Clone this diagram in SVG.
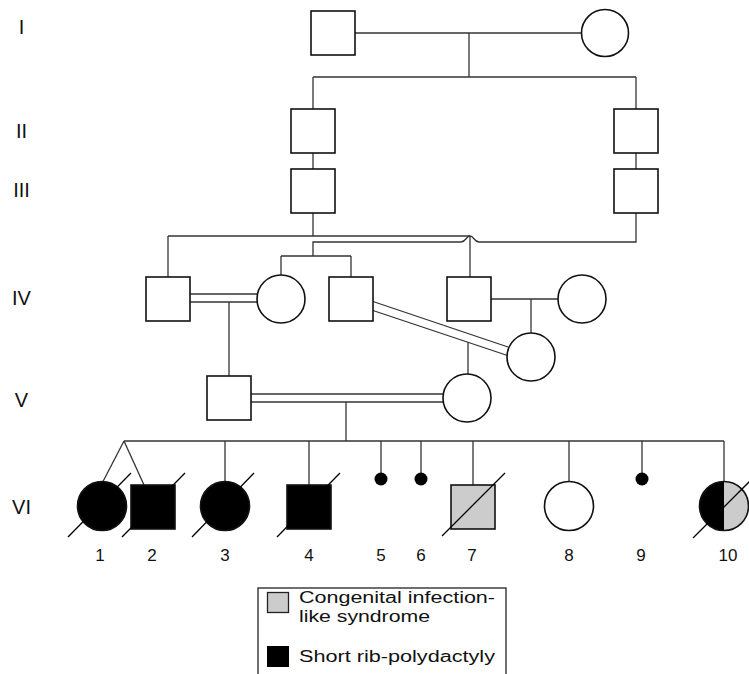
<svg xmlns="http://www.w3.org/2000/svg" width="749" height="674" viewBox="0 0 749 674">
<style>
.n{fill:#fff;stroke:#111;stroke-width:1.6}
.aff{fill:#000;stroke:#111;stroke-width:1.6}
.gr{fill:#cccccc;stroke:#111;stroke-width:1.6}
.c line,.c path{stroke:#333;stroke-width:1.3;fill:none}
.sl{stroke:#000;stroke-width:1.3}
.g{font-family:"Liberation Sans",Arial,sans-serif;font-size:20px;fill:#111;text-anchor:middle}
.num{font-family:"Liberation Sans",Arial,sans-serif;font-size:17px;fill:#111;text-anchor:middle}
.lg{font-family:"Liberation Sans",Arial,sans-serif;font-size:16px;fill:#111}
</style>
<rect width="749" height="674" fill="#fff"/>
<g id="gen-labels">
<text class="g" x="21.5" y="34">I</text>
<text class="g" x="21.5" y="138">II</text>
<text class="g" x="21.5" y="197">III</text>
<text class="g" x="21.5" y="305">IV</text>
<text class="g" x="21.5" y="407">V</text>
<text class="g" x="21.5" y="514">VI</text>
</g>
<g id="connectors" class="c">
<line x1="355" y1="33" x2="581.5" y2="33"/>
<line x1="469" y1="33" x2="469" y2="77"/>
<line x1="313" y1="77" x2="636" y2="77"/>
<line x1="313" y1="77" x2="313" y2="109"/>
<line x1="636" y1="77" x2="636" y2="109"/>
<line x1="313" y1="153" x2="313" y2="169"/>
<line x1="636" y1="153" x2="636" y2="169"/>
<line x1="313" y1="213" x2="313" y2="236"/>
<line x1="168" y1="236" x2="470" y2="236"/>
<line x1="168" y1="236" x2="168" y2="277"/>
<line x1="470" y1="236" x2="470" y2="277"/>
<path d="M636,213 V242 H479 C474,242 474,236 470,236 C466,236 466,242 461,242 H313 V256"/>
<line x1="281" y1="256" x2="351" y2="256"/>
<line x1="281" y1="256" x2="281" y2="275"/>
<line x1="351" y1="256" x2="351" y2="277"/>
<line x1="190" y1="294" x2="257.5" y2="294"/>
<line x1="190" y1="302" x2="257.5" y2="302"/>
<line x1="229" y1="302" x2="229" y2="376"/>
<line x1="373" y1="301.5" x2="508" y2="347"/>
<line x1="373" y1="310.5" x2="507.5" y2="355.5"/>
<line x1="468" y1="342" x2="468" y2="374"/>
<line x1="491" y1="299" x2="558" y2="299"/>
<line x1="531" y1="299" x2="531" y2="333"/>
<line x1="251" y1="394" x2="444" y2="394"/>
<line x1="251" y1="402" x2="443.5" y2="402"/>
<line x1="346" y1="402" x2="346" y2="441"/>
<line x1="124" y1="441" x2="724" y2="441"/>
<line x1="724" y1="441" x2="724" y2="481.5"/>
<line x1="124" y1="441" x2="103" y2="481.5"/>
<line x1="124" y1="441" x2="144" y2="485"/>
<line x1="225" y1="441" x2="225" y2="481.5"/>
<line x1="309" y1="441" x2="309" y2="485"/>
<line x1="381" y1="441" x2="381" y2="473"/>
<line x1="421" y1="441" x2="421" y2="473"/>
<line x1="473" y1="441" x2="473" y2="485"/>
<line x1="569" y1="441" x2="569" y2="482"/>
<line x1="642" y1="441" x2="642" y2="473"/>
</g>
<g id="I-1"><rect class="n" x="311" y="11" width="44" height="44"/></g>
<g id="I-2"><circle class="n" cx="605" cy="33" r="23.5"/></g>
<g id="II-1"><rect class="n" x="291" y="109" width="44" height="44"/></g>
<g id="II-2"><rect class="n" x="614" y="109" width="44" height="44"/></g>
<g id="III-1"><rect class="n" x="291" y="169" width="44" height="44"/></g>
<g id="III-2"><rect class="n" x="614" y="169" width="44" height="44"/></g>
<g id="IV-1"><rect class="n" x="146" y="277" width="44" height="44"/></g>
<g id="IV-2"><circle class="n" cx="281" cy="299" r="24"/></g>
<g id="IV-3"><rect class="n" x="329" y="277" width="44" height="44"/></g>
<g id="IV-4"><rect class="n" x="447" y="277" width="44" height="44"/></g>
<g id="IV-5"><circle class="n" cx="582" cy="299" r="24"/></g>
<g id="IV-6"><circle class="n" cx="531" cy="357" r="24"/></g>
<g id="V-1"><rect class="n" x="207" y="376" width="44" height="44"/></g>
<g id="V-2"><circle class="n" cx="467" cy="398" r="24"/></g>
<g id="VI-1"><circle class="aff" cx="102" cy="506" r="24.5"/><line class="sl" x1="68" y1="537" x2="131" y2="473"/><text class="num" x="100" y="561">1</text></g>
<g id="VI-2"><rect class="aff" x="131" y="485" width="44" height="44"/><line class="sl" x1="122" y1="537" x2="185" y2="473"/><text class="num" x="152" y="561">2</text></g>
<g id="VI-3"><circle class="aff" cx="225" cy="506" r="24.5"/><line class="sl" x1="192" y1="537" x2="254" y2="473"/><text class="num" x="225" y="561">3</text></g>
<g id="VI-4"><rect class="aff" x="287" y="485" width="44" height="44"/><line class="sl" x1="277" y1="537" x2="340" y2="473"/><text class="num" x="309" y="561">4</text></g>
<g id="VI-5"><circle cx="381" cy="479" r="6.5" fill="#000"/><text class="num" x="381" y="561">5</text></g>
<g id="VI-6"><circle cx="421" cy="479" r="6.5" fill="#000"/><text class="num" x="421" y="561">6</text></g>
<g id="VI-7"><rect class="gr" x="451" y="485" width="44" height="44"/><line class="sl" x1="442" y1="536" x2="505" y2="473"/><text class="num" x="472" y="561">7</text></g>
<g id="VI-8"><circle class="n" cx="569" cy="506" r="24.5"/><text class="num" x="569" y="561">8</text></g>
<g id="VI-9"><circle cx="642" cy="479" r="6.5" fill="#000"/><text class="num" x="641" y="561">9</text></g>
<g id="VI-10">
<path d="M724,481.5 A24.5,24.5 0 0 0 724,530.5 Z" fill="#000"/>
<path d="M724,481.5 A24.5,24.5 0 0 1 724,530.5 Z" fill="#cccccc"/>
<circle cx="724" cy="506" r="24.5" fill="none" stroke="#111" stroke-width="1.6"/>
<line class="sl" x1="693" y1="538" x2="757" y2="474"/>
<text class="num" x="728" y="561">10</text>
</g>
<g id="legend">
<rect x="258" y="588" width="248" height="100" fill="none" stroke="#222" stroke-width="1.3"/>
<rect x="267.5" y="592.5" width="21" height="20" fill="#cccccc" stroke="#222" stroke-width="1.3"/>
<text class="lg" x="299" y="603" textLength="196" lengthAdjust="spacingAndGlyphs">Congenital infection-</text>
<text class="lg" x="299" y="621.5" textLength="131" lengthAdjust="spacingAndGlyphs">like syndrome</text>
<rect x="267" y="646" width="22" height="21" fill="#000"/>
<text class="lg" x="299" y="662" textLength="196" lengthAdjust="spacingAndGlyphs">Short rib-polydactyly</text>
</g>
</svg>
